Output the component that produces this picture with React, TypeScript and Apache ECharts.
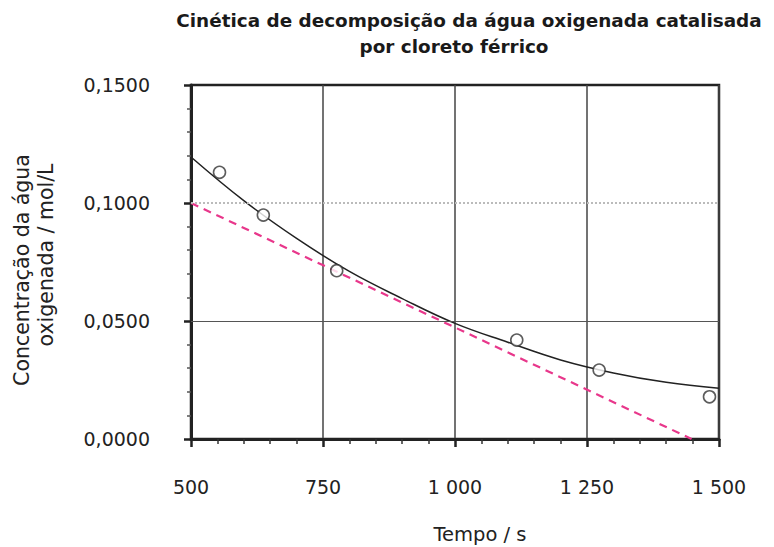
import React, { useEffect, useRef } from "react";
import * as echarts from "echarts";

const titleLine1 = "Cinética de decomposição da água oxigenada catalisada";
const titleLine2 = "por cloreto férrico";
const yNameLine1 = "Concentração da água";
const yNameLine2 = "oxigenada / mol/L";
const xName = "Tempo / s";

const xTicks = [500, 750, 1000, 1250, 1500];
const yTicks = [0, 0.05, 0.1, 0.15];

// fitted curve
const curveX = [500, 600, 700, 800, 900, 1000, 1100, 1200, 1300, 1400, 1500];
const curveY = [0.1195, 0.101, 0.085, 0.071, 0.0595, 0.049, 0.041, 0.0335, 0.028, 0.024, 0.0215];

// measured points
const pointsX = [554, 637, 776, 1117, 1273, 1482];
const pointsY = [0.113, 0.0949, 0.0713, 0.0419, 0.0292, 0.0179];

// tangent (dashed) line
const tangentX = [500, 1448];
const tangentY = [0.1, 0];

const FONT = "DejaVu Sans";

function fmtX(v: number): string {
  const s = String(Math.round(v));
  return s.length > 3 ? s.slice(0, s.length - 3) + " " + s.slice(-3) : s;
}
function fmtY(v: number): string {
  return v.toFixed(4).replace(".", ",");
}

export default function App() {
  const ref = useRef<HTMLDivElement>(null);
  useEffect(() => {
    if (!ref.current) return;
    const chart = echarts.init(ref.current, null, { renderer: "svg" });
    const option: any = {
      animation: false,
      backgroundColor: "#ffffff",
      grid: {
        left: 191,
        top: 85,
        width: 528,
        height: 354,
        show: true,
        borderColor: "#222",
        borderWidth: 2.5,
        backgroundColor: "transparent",
      },
      graphic: [
        {
          type: "text",
          x: 469,
          y: 20,
          style: {
            text: titleLine1,
            font: `bold 18.4px '${FONT}'`,
            fill: "#1a1a1a",
            textAlign: "center",
            textVerticalAlign: "middle",
          },
        },
        {
          type: "text",
          x: 454,
          y: 46,
          style: {
            text: titleLine2,
            font: `bold 18.4px '${FONT}'`,
            fill: "#1a1a1a",
            textAlign: "center",
            textVerticalAlign: "middle",
          },
        },
        {
          type: "text",
          x: 22,
          y: 270,
          rotation: Math.PI / 2,
          style: {
            text: yNameLine1,
            font: `20.5px '${FONT}'`,
            fill: "#222",
            textAlign: "center",
            textVerticalAlign: "middle",
          },
        },
        {
          type: "text",
          x: 46,
          y: 255,
          rotation: Math.PI / 2,
          style: {
            text: yNameLine2,
            font: `20.5px '${FONT}'`,
            fill: "#222",
            textAlign: "center",
            textVerticalAlign: "middle",
          },
        },
        {
          type: "text",
          x: 480,
          y: 534,
          style: {
            text: xName,
            font: `19.5px '${FONT}'`,
            fill: "#222",
            textAlign: "center",
            textVerticalAlign: "middle",
          },
        },
      ],
      xAxis: {
        type: "value",
        min: xTicks[0],
        max: xTicks[xTicks.length - 1],
        interval: 250,
        axisLine: { show: true, onZero: false, lineStyle: { color: "#222", width: 3 } },
        axisTick: { show: true, inside: false, length: 8, lineStyle: { color: "#222", width: 2.5 } },
        minorTick: { show: true, splitNumber: 5, length: 5, lineStyle: { color: "#333", width: 1.5 } },
        splitLine: { show: true, lineStyle: { color: "#444", width: 1.5 } },
        axisLabel: {
          formatter: (v: number) => fmtX(v),
          margin: 38,
          fontFamily: FONT,
          fontSize: 19,
          color: "#222",
        },
      },
      yAxis: {
        type: "value",
        min: yTicks[0],
        max: yTicks[yTicks.length - 1],
        interval: 0.05,
        axisLine: { show: true, onZero: false, lineStyle: { color: "#222", width: 3 } },
        axisTick: { show: true, inside: false, length: 7, lineStyle: { color: "#222", width: 2.5 } },
        minorTick: { show: true, splitNumber: 5, length: 4, lineStyle: { color: "#555", width: 1.5 } },
        splitLine: { show: false },
        axisLabel: {
          formatter: (v: number) => fmtY(v),
          margin: 41,
          fontFamily: FONT,
          fontSize: 19,
          color: "#222",
        },
      },
      series: [
        {
          type: "line",
          name: "markers",
          data: [],
          silent: true,
          markLine: {
            silent: true,
            symbol: "none",
            label: { show: false },
            data: [
              { yAxis: yTicks[2], lineStyle: { color: "#bbb", width: 2, type: "dotted" } },
              { yAxis: yTicks[1], lineStyle: { color: "#555", width: 1.2, type: "solid" } },
            ],
          },
        },
        {
          type: "line",
          name: "tangente",
          data: tangentX.map((x, i) => [x, tangentY[i]]),
          showSymbol: false,
          symbol: "none",
          lineStyle: { color: "#e8378b", width: 2.2, type: [8, 6] },
          z: 3,
        },
        {
          type: "line",
          name: "ajuste",
          data: curveX.map((x, i) => [x, curveY[i]]),
          smooth: 0.4,
          showSymbol: false,
          symbol: "none",
          lineStyle: { color: "#222", width: 1.5 },
          z: 4,
        },
        {
          type: "scatter",
          name: "pontos",
          data: pointsX.map((x, i) => [x, pointsY[i]]),
          symbol: "circle",
          symbolSize: 12,
          itemStyle: { color: "#fff", borderColor: "#333", borderWidth: 1.6 },
          z: 5,
        },
      ],
    };
    chart.setOption(option);
    return () => chart.dispose();
  }, []);
  return (
    <div
      ref={ref}
      style={{ position: "fixed", left: 0, top: 0, width: 774, height: 547 }}
    />
  );
}
